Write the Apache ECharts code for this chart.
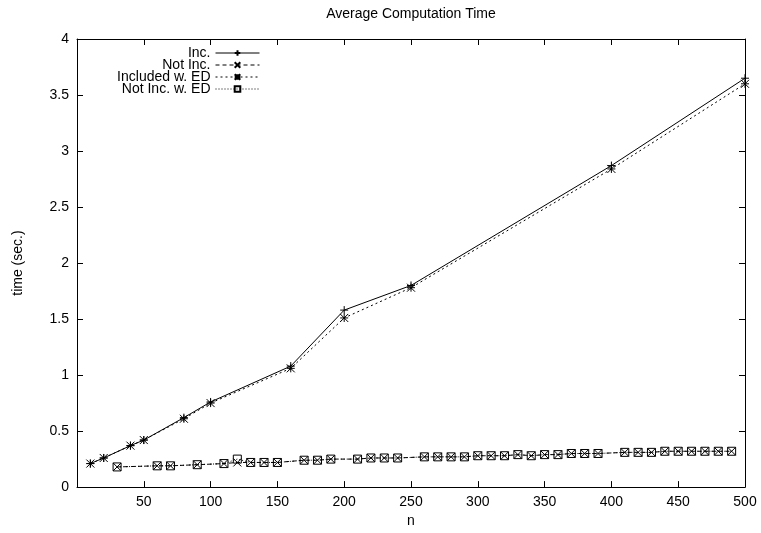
<!DOCTYPE html>
<html>
<head>
<meta charset="utf-8">
<title>Average Computation Time</title>
<script src="https://cdn.jsdelivr.net/npm/echarts@6/dist/echarts.min.js"></script>
<style>
    html, body { margin: 0; padding: 0; background: #fff; }
    #chart { width: 761px; height: 533px; }
</style>
</head>
<body>
<div id="chart"></div>
<script>
// n 值（上面两条线）
var nHigh = [10, 20, 40, 50, 80, 100, 160, 200, 250, 400, 500];
var incTime = [0.21, 0.26, 0.37, 0.42, 0.62, 0.76, 1.08, 1.58, 1.80, 2.87, 3.65];
var incEdTime = [0.21, 0.26, 0.37, 0.42, 0.61, 0.75, 1.06, 1.51, 1.78, 2.84, 3.60];

// n 值（下面两条线）
var nLow = [30, 60, 70, 90, 110, 120, 130, 140, 150, 170, 180, 190, 210, 220, 230, 240,
    260, 270, 280, 290, 300, 310, 320, 330, 340, 350, 360, 370, 380, 390,
    410, 420, 430, 440, 450, 460, 470, 480, 490];
var notIncTime = [0.18, 0.19, 0.19, 0.20, 0.21, 0.22, 0.22, 0.22, 0.22, 0.24, 0.24, 0.25, 0.25, 0.26, 0.26, 0.26,
    0.27, 0.27, 0.27, 0.27, 0.28, 0.28, 0.28, 0.29, 0.28, 0.29, 0.29, 0.30, 0.30, 0.30,
    0.31, 0.31, 0.31, 0.32, 0.32, 0.32, 0.32, 0.32, 0.32];
var notIncEdTime = [0.18, 0.19, 0.19, 0.20, 0.21, 0.25, 0.22, 0.22, 0.22, 0.24, 0.24, 0.25, 0.25, 0.26, 0.26, 0.26,
    0.27, 0.27, 0.27, 0.27, 0.28, 0.28, 0.28, 0.29, 0.28, 0.29, 0.29, 0.30, 0.30, 0.30,
    0.31, 0.31, 0.31, 0.32, 0.32, 0.32, 0.32, 0.32, 0.32];

var seriesNames = ['Inc.', 'Not Inc.', 'Included w. ED', 'Not Inc. w. ED'];
var xTicks = [0, 500, 50];   // min, max, interval
var yTicks = [0, 4, 0.5];

var FONT = '"Liberation Sans", Arial, sans-serif';
var FS = 14;

// 组合成 [x, y]
function pairs(xs, ys) {
    var out = [];
    for (var i = 0; i < xs.length; i++) {
        out.push([xs[i], ys[i]]);
    }
    return out;
}

// gnuplot 风格的点
var symPlus = 'path://M0,5L10,5M5,0L5,10';
var symCross = 'path://M0,0L10,10M10,0L0,10';
var symStar = 'path://M0,5L10,5M5,0L5,10M0,0L10,10M10,0L0,10';

function lineSeries(name, data, symbol, dash) {
    return {
        name: name,
        type: 'line',
        data: data,
        symbol: symbol,
        symbolSize: 8,
        showAllSymbol: true,
        animation: false,
        lineStyle: { color: '#000', width: 1, type: dash },
        itemStyle: { color: 'none', borderColor: '#000', borderWidth: 1 },
        emphasis: { disabled: true }
    };
}

// 坐标轴（四边都有刻度，像 gnuplot）
function valueAxis(pos, ticks, showLabel) {
    return {
        type: 'value',
        position: pos,
        min: ticks[0],
        max: ticks[1],
        interval: ticks[2],
        axisLine: { show: true, onZero: false, lineStyle: { color: '#000', width: 1 } },
        axisTick: { show: true, inside: true, length: 6, lineStyle: { color: '#000' } },
        splitLine: { show: false },
        axisLabel: {
            show: showLabel,
            color: '#000',
            fontFamily: FONT,
            fontSize: FS,
            margin: 8,
            formatter: function (v) { return v === 0 && pos === 'bottom' ? '' : String(v); }
        }
    };
}

var chart = echarts.init(document.getElementById('chart'));

var xBottom = valueAxis('bottom', xTicks, true);
xBottom.name = 'n';
xBottom.nameLocation = 'middle';
xBottom.nameGap = 24;
xBottom.nameTextStyle = { color: '#000', fontFamily: FONT, fontSize: FS };

var xTop = valueAxis('top', xTicks, false);
xTop.name = 'Average Computation Time';
xTop.nameLocation = 'middle';
xTop.nameGap = 18;
xTop.nameTextStyle = { color: '#000', fontFamily: FONT, fontSize: FS };

var yLeft = valueAxis('left', yTicks, true);
yLeft.name = 'time (sec.)';
yLeft.nameLocation = 'middle';
yLeft.nameGap = 52;
yLeft.nameTextStyle = { color: '#000', fontFamily: FONT, fontSize: FS };

var yRight = valueAxis('right', yTicks, false);

var option = {
    backgroundColor: '#fff',
    animation: false,
    grid: { left: 77, right: 16, top: 39, bottom: 45, containLabel: false },
    legend: {
        orient: 'vertical',
        align: 'right',
        right: 496,
        top: 41,
        itemWidth: 44,
        itemHeight: 7,
        itemGap: -2,
        data: seriesNames,
        selectedMode: false,
        lineStyle: { width: 1 },
        textStyle: { color: '#000', fontFamily: FONT, fontSize: FS }
    },
    xAxis: [xBottom, xTop],
    yAxis: [yLeft, yRight],
    series: [
        lineSeries(seriesNames[0], pairs(nHigh, incTime), symPlus, 'solid'),
        lineSeries(seriesNames[1], pairs(nLow, notIncTime), symCross, [4, 3]),
        lineSeries(seriesNames[2], pairs(nHigh, incEdTime), symStar, [2, 3]),
        lineSeries(seriesNames[3], pairs(nLow, notIncEdTime), 'rect', [1, 2])
    ]
};

chart.setOption(option);
</script>
</body>
</html>
